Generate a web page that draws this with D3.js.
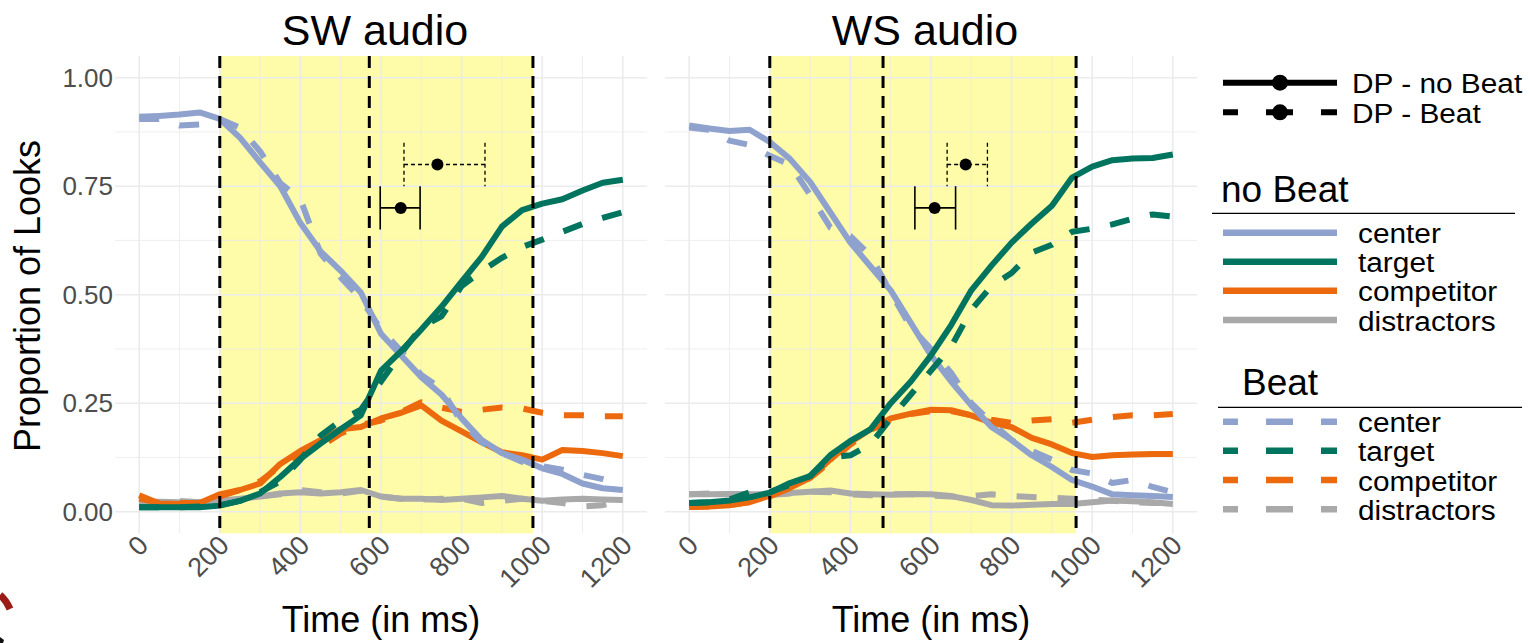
<!DOCTYPE html>
<html><head><meta charset="utf-8">
<script src="https://cdn.jsdelivr.net/npm/d3@7"></script>
<style>
body{margin:0;background:#fff;}
svg{display:block;font-family:"Liberation Sans",Arial,Helvetica,sans-serif;}
</style>
</head><body>
<svg id="chart" width="1531" height="643"></svg>
<script>
// ---------- data ----------
const timeMs = [0,50,100,150,200,250,300,350,400,450,500,550,600,650,700,750,800,850,900,950,1000,1050,1100,1150,1200];
const panelTitles = ["SW audio","WS audio"];
const aois = ["center","target","competitor","distractors"];
const aoiColors = ["#8FA2CD","#00745E","#EC6A0D","#A9A9A9"];
const conditions = ["no Beat","Beat"];
const xTicks = [0,200,400,600,800,1000,1200];
const xMinor = [100,300,500,700,900,1100];
const yTicks = [0,0.25,0.5,0.75,1];
const yTickLabels = ["0.00","0.25","0.50","0.75","1.00"];
const yMinor = [0.125,0.375,0.625,0.875];

// SW audio
const swCenterNoBeat  = [0.91,0.912,0.915,0.92,0.905,0.862,0.805,0.75,0.665,0.60,0.555,0.505,0.41,0.36,0.31,0.27,0.215,0.165,0.135,0.12,0.10,0.087,0.065,0.054,0.05];
const swCenterBeat    = [0.905,0.905,0.89,0.892,0.905,0.885,0.83,0.757,0.72,0.595,0.54,0.49,0.42,0.37,0.315,0.283,0.205,0.16,0.135,0.115,0.105,0.097,0.085,0.075,0.06];
const swTargetNoBeat  = [0.01,0.01,0.01,0.01,0.014,0.025,0.042,0.08,0.122,0.157,0.19,0.222,0.325,0.37,0.42,0.472,0.53,0.587,0.657,0.695,0.71,0.72,0.74,0.758,0.765];
const swTargetBeat    = [0.01,0.01,0.01,0.012,0.015,0.025,0.045,0.07,0.12,0.175,0.21,0.235,0.30,0.365,0.425,0.45,0.52,0.555,0.585,0.61,0.627,0.645,0.663,0.677,0.69];
const swCompNoBeat    = [0.038,0.019,0.018,0.02,0.04,0.05,0.065,0.11,0.14,0.165,0.19,0.195,0.215,0.228,0.245,0.21,0.185,0.16,0.137,0.13,0.12,0.142,0.14,0.135,0.128];
const swCompBeat      = [0.03,0.02,0.02,0.02,0.035,0.05,0.07,0.105,0.135,0.15,0.18,0.20,0.21,0.23,0.252,0.24,0.23,0.235,0.24,0.238,0.228,0.222,0.222,0.22,0.22];
const swDistNoBeat    = [0.023,0.023,0.022,0.022,0.025,0.03,0.035,0.042,0.045,0.042,0.045,0.05,0.035,0.03,0.03,0.027,0.03,0.033,0.036,0.03,0.025,0.028,0.03,0.028,0.027];
const swDistBeat      = [0.02,0.02,0.025,0.022,0.02,0.028,0.035,0.04,0.05,0.045,0.042,0.048,0.035,0.03,0.028,0.03,0.03,0.02,0.025,0.03,0.025,0.02,0.012,0.015,0.027];

// WS audio
const wsCenterNoBeat  = [0.89,0.883,0.877,0.88,0.852,0.813,0.76,0.69,0.62,0.565,0.51,0.435,0.36,0.30,0.245,0.195,0.165,0.13,0.103,0.073,0.058,0.04,0.038,0.036,0.034];
const wsCenterBeat    = [0.885,0.88,0.855,0.845,0.82,0.80,0.73,0.655,0.635,0.59,0.505,0.425,0.375,0.32,0.25,0.205,0.165,0.14,0.12,0.096,0.088,0.066,0.073,0.057,0.045];
const wsTargetNoBeat  = [0.02,0.022,0.026,0.033,0.044,0.066,0.082,0.13,0.163,0.19,0.25,0.30,0.36,0.43,0.51,0.567,0.62,0.664,0.705,0.77,0.795,0.81,0.814,0.815,0.823];
const wsTargetBeat    = [0.02,0.022,0.028,0.045,0.045,0.062,0.082,0.125,0.13,0.155,0.215,0.27,0.325,0.38,0.465,0.52,0.55,0.597,0.615,0.645,0.652,0.662,0.675,0.685,0.68];
const wsCompNoBeat    = [0.011,0.012,0.015,0.022,0.037,0.055,0.078,0.12,0.16,0.19,0.215,0.226,0.235,0.234,0.222,0.205,0.195,0.17,0.155,0.135,0.126,0.13,0.132,0.133,0.133];
const wsCompBeat      = [0.011,0.012,0.016,0.022,0.035,0.055,0.078,0.115,0.155,0.188,0.212,0.225,0.232,0.232,0.222,0.212,0.205,0.21,0.213,0.205,0.212,0.218,0.222,0.222,0.225];
const wsDistNoBeat    = [0.04,0.04,0.041,0.04,0.04,0.043,0.046,0.049,0.042,0.04,0.039,0.041,0.04,0.036,0.027,0.015,0.014,0.016,0.018,0.018,0.022,0.026,0.024,0.022,0.018];
const wsDistBeat      = [0.04,0.042,0.04,0.04,0.038,0.042,0.046,0.045,0.04,0.038,0.04,0.04,0.037,0.035,0.036,0.04,0.036,0.034,0.032,0.03,0.028,0.025,0.022,0.02,0.02];

// analysis windows (ms)
const windowStart = [200,200];
const windowMid   = [571,481];
const windowEnd   = [977,960];

// divergence points (ms) with intervals
const dpNoBeatMean = [649,609];
const dpNoBeatLow  = [598,560];
const dpNoBeatHigh = [697,661];
const dpBeatMean   = [740,686];
const dpBeatLow    = [657,640];
const dpBeatHigh   = [858,740];
const dpLevels = [0.70,0.80]; // no Beat, Beat

const seriesByPanel = [
  [[swCenterNoBeat,swCenterBeat],[swTargetNoBeat,swTargetBeat],[swCompNoBeat,swCompBeat],[swDistNoBeat,swDistBeat]],
  [[wsCenterNoBeat,wsCenterBeat],[wsTargetNoBeat,wsTargetBeat],[wsCompNoBeat,wsCompBeat],[wsDistNoBeat,wsDistBeat]]
];

// ---------- layout ----------
const svg = d3.select("#chart");
const panelX = [[115,647],[665,1197]];
const y = d3.scaleLinear().domain([-0.05,1.05]).range([533.4,56]);
const gridCol = "#EBEBEB";
const tickCol = "#4D4D4D";
const dataDash = "20 21";

panelTitles.forEach((title, p) => {
  const x = d3.scaleLinear().domain([-60,1260]).range(panelX[p]);
  const g = svg.append("g");
  const [x0,x1] = panelX[p];

  // yellow window
  g.append("rect").attr("x", x(windowStart[p])).attr("y", y(1.05))
    .attr("width", x(windowEnd[p]) - x(windowStart[p])).attr("height", y(-0.05) - y(1.05))
    .attr("fill", "#FEFCA8");

  // grid
  g.selectAll(".ymin").data(yMinor).join("line")
    .attr("x1",x0).attr("x2",x1).attr("y1",d=>y(d)).attr("y2",d=>y(d))
    .attr("stroke",gridCol).attr("stroke-width",0.8);
  g.selectAll(".xmin").data(xMinor).join("line")
    .attr("y1",y(-0.05)).attr("y2",y(1.05)).attr("x1",d=>x(d)).attr("x2",d=>x(d))
    .attr("stroke",gridCol).attr("stroke-width",0.8);
  g.selectAll(".ymaj").data(yTicks).join("line")
    .attr("x1",x0).attr("x2",x1).attr("y1",d=>y(d)).attr("y2",d=>y(d))
    .attr("stroke",gridCol).attr("stroke-width",1.6);
  g.selectAll(".xmaj").data(xTicks).join("line")
    .attr("y1",y(-0.05)).attr("y2",y(1.05)).attr("x1",d=>x(d)).attr("x2",d=>x(d))
    .attr("stroke",gridCol).attr("stroke-width",1.6);

  // data lines
  const line = d3.line().x((d,i)=>x(timeMs[i])).y(d=>y(d));
  const order = [3,2,0,1];
  order.forEach(a => {
    seriesByPanel[p][a].forEach((vals, c) => {
      g.append("path").attr("d", line(vals)).attr("fill","none")
        .attr("stroke", aoiColors[a]).attr("stroke-width", 6)
        .attr("stroke-linejoin","round")
        .attr("stroke-dasharray", c === 1 ? dataDash : null);
    });
  });

  // window dashed lines
  [windowStart[p], windowMid[p], windowEnd[p]].forEach(t => {
    g.append("line").attr("x1",x(t)).attr("x2",x(t)).attr("y1",y(1.05)).attr("y2",y(-0.05))
      .attr("stroke","#000").attr("stroke-width",3).attr("stroke-dasharray","12 8");
  });

  // divergence point error bars
  const bars = [
    {m:dpNoBeatMean[p], lo:dpNoBeatLow[p], hi:dpNoBeatHigh[p], lv:dpLevels[0], dash:null, w:1.6},
    {m:dpBeatMean[p], lo:dpBeatLow[p], hi:dpBeatHigh[p], lv:dpLevels[1], dash:"4 3", w:1.3}
  ];
  bars.forEach(b => {
    g.append("line").attr("x1",x(b.lo)).attr("x2",x(b.hi)).attr("y1",y(b.lv)).attr("y2",y(b.lv))
      .attr("stroke","#000").attr("stroke-width",b.w).attr("stroke-dasharray",b.dash);
    [b.lo,b.hi].forEach(t => g.append("line").attr("x1",x(t)).attr("x2",x(t))
      .attr("y1",y(b.lv+0.05)).attr("y2",y(b.lv-0.05))
      .attr("stroke","#000").attr("stroke-width",b.w).attr("stroke-dasharray",b.dash));
    g.append("circle").attr("cx",x(b.m)).attr("cy",y(b.lv)).attr("r",6).attr("fill","#000");
  });

  // x tick labels
  g.selectAll(".xt").data(xTicks).join("text")
    .attr("transform", d => `translate(${x(d)-3},533) rotate(-45)`)
    .attr("text-anchor","end").attr("dy","0.72em")
    .attr("font-size",27).attr("fill",tickCol).text(d=>d);

  // panel title
  g.append("text").attr("x",(x0+x1)/2 - 6).attr("y",45).attr("text-anchor","middle")
    .attr("font-size",43).attr("fill","#000").text(title);
  // x axis title
  g.append("text").attr("x",(x0+x1)/2).attr("y",632).attr("text-anchor","middle")
    .attr("font-size",36).attr("fill","#000").text("Time (in ms)");

  if (p === 0) {
    g.selectAll(".yt").data(yTicks).join("text")
      .attr("x",113).attr("y",d=>y(d)).attr("dy","0.35em").attr("text-anchor","end")
      .attr("font-size",26).attr("fill",tickCol).text((d,i)=>yTickLabels[i]);
  }
});

// y axis title
svg.append("text").attr("transform","translate(40,296) rotate(-90)")
  .attr("text-anchor","middle").attr("font-size",36).attr("fill","#000").text("Proportion of Looks");

// ---------- legend ----------
const lg = svg.append("g");
const kx0 = 1223, kx1 = 1337;
const labSize = 25.5, labStretch = 1.17;
function legendLabel(x, yb, txt) {
  lg.append("text").attr("transform", `translate(${x},${yb}) scale(${labStretch},1.06)`)
    .attr("font-size", labSize).attr("fill","#000").text(txt);
}
// DP legend
[["DP - no Beat",82.7,null],["DP - Beat",112.3,"27 28"]].forEach(([lab,ky,dash]) => {
  lg.append("line").attr("x1",kx0).attr("x2",kx1).attr("y1",ky).attr("y2",ky)
    .attr("stroke","#000").attr("stroke-width",6)
    .attr("stroke-dasharray",dash).attr("stroke-dashoffset",dash?12:null);
  lg.append("circle").attr("cx",(kx0+kx1)/2).attr("cy",ky).attr("r",8).attr("fill","#000");
  legendLabel(1352, ky+10.5, lab);
});
// AOI legends
const legendBlocks = [
  {title:conditions[0], tx:1221, ty:201.7, ux0:1212, ux1:1515, uy:213.3, keys:[232.7,261.7,290.7,320], dash:null},
  {title:conditions[1], tx:1242, ty:395, ux0:1218, ux1:1522, uy:407.3, keys:[421.7,450.7,480,509.3], dash:"27 28"}
];
legendBlocks.forEach(b => {
  lg.append("text").attr("x",b.tx).attr("y",b.ty).attr("font-size",37).attr("fill","#000").text(b.title);
  lg.append("line").attr("x1",b.ux0).attr("x2",b.ux1).attr("y1",b.uy).attr("y2",b.uy)
    .attr("stroke","#000").attr("stroke-width",1.2);
  aois.forEach((a,i) => {
    lg.append("line").attr("x1",kx0).attr("x2",kx1).attr("y1",b.keys[i]).attr("y2",b.keys[i])
      .attr("stroke",aoiColors[i]).attr("stroke-width",6.5)
      .attr("stroke-dasharray",b.dash).attr("stroke-dashoffset",b.dash?12:null);
    legendLabel(1358, b.keys[i]+10.5, a);
  });
});

// cropped logo fragment at bottom-left corner
svg.append("path").attr("d","M0,595 Q6,600 10,609").attr("fill","none")
  .attr("stroke","#9B1C17").attr("stroke-width",7);
svg.append("path").attr("d","M0,637 L4,640 L3,643 L0,643 Z").attr("fill","#111");
</script>
</body></html>
